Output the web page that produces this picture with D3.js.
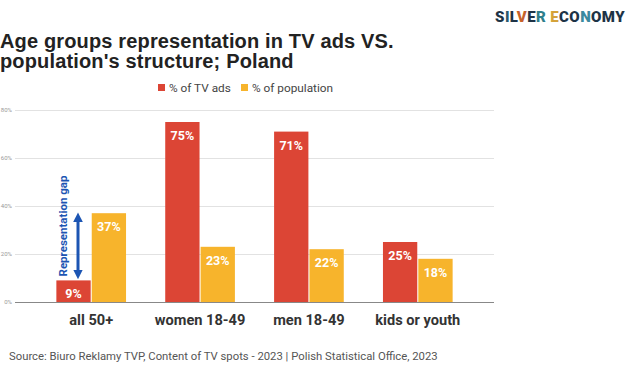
<!DOCTYPE html>
<html>
<head>
<meta charset="utf-8">
<script src="https://cdn.jsdelivr.net/npm/d3@7"></script>
<style>
  body { margin: 0; background: #fff; }
  svg { display: block; font-family: Roboto, "Liberation Sans", Arial, sans-serif; }
</style>
</head>
<body>
<div id="chart"></div>
<script>
// data
var categories = ["all 50+", "women 18-49", "men 18-49", "kids or youth"];
var tvAds = [9, 75, 71, 25];
var population = [37, 23, 22, 18];
var seriesNames = ["% of TV ads", "% of population"];
var yTicks = [0, 20, 40, 60, 80];

var colors = ["#dc4535", "#f7b42c"];

var W = 626, H = 372;
var svg = d3.select("#chart").append("svg")
  .attr("width", W)
  .attr("height", H);

// logo
var logoColors = ["#1d3346", "#2b5a6e", "#1d3346", "#c7622a", "#1d3346", "#2f7f8c", "#1d3346", "#d4a23a", "#1d3346", "#1d3346", "#3b8aa0", "#1d3346", "#1d3346", "#1d3346"];
var logo = svg.append("text")
  .attr("x", 625).attr("y", 22)
  .attr("text-anchor", "end")
  .style("font-size", "15px")
  .style("font-weight", "900")
  .style("letter-spacing", "0.4px");
"SILVER ECONOMY".split("").forEach(function(c, i) {
  logo.append("tspan").attr("fill", logoColors[i]).text(c);
});

// title
var title = svg.append("text")
  .attr("x", 0).attr("y", 48)
  .attr("fill", "#222")
  .style("font-size", "20px")
  .style("font-weight", "bold")
  .style("letter-spacing", "0.15px")
  .style("font-family", "'Liberation Sans', Arial, sans-serif");
title.append("tspan").attr("x", 0).text("Age groups representation in TV ads VS.");
title.append("tspan").attr("x", 0).attr("dy", 20).text("population's structure; Poland");

// legend
var legendX = [158, 241];
seriesNames.forEach(function(name, i) {
  var g = svg.append("g").attr("transform", "translate(" + legendX[i] + ",88)");
  g.append("rect").attr("x", 0).attr("y", -4).attr("width", 7).attr("height", 7).attr("fill", colors[i]);
  g.append("text").attr("x", 11).attr("y", 0).attr("dy", "0.35em")
    .attr("fill", "#444").style("font-size", "11.8px").text(name);
});

// scales
var x = d3.scaleBand()
  .domain(categories)
  .range([15, 494])
  .paddingInner(0.36)
  .paddingOuter(0.38);

var xSub = d3.scaleBand()
  .domain([0, 1])
  .range([0, x.bandwidth()])
  .paddingInner(0.03);

var y = d3.scaleLinear()
  .domain([0, 80])
  .range([302, 110]);

// grid
svg.append("g")
  .selectAll("line")
  .data(yTicks)
  .enter()
  .append("line")
    .attr("x1", 15).attr("x2", 494)
    .attr("y1", d => y(d) + 0.5).attr("y2", d => y(d) + 0.5)
    .attr("stroke", d => d === 0 ? "#888" : "#e2e2e2")
    .attr("stroke-width", 1);

svg.append("g")
  .selectAll("text")
  .data(yTicks)
  .enter()
  .append("text")
    .attr("x", 12).attr("y", d => y(d))
    .attr("dy", "0.35em")
    .attr("text-anchor", "end")
    .attr("fill", "#999")
    .style("font-size", "6px")
    .text(d => d + "%");

// bars
var rows = categories.map(function(c, i) { return { cat: c, vals: [tvAds[i], population[i]] }; });

var groups = svg.selectAll(".grp")
  .data(rows)
  .enter()
  .append("g")
    .attr("class", "grp")
    .attr("transform", d => "translate(" + x(d.cat) + ",0)");

groups.selectAll("rect")
  .data(d => d.vals.map((v, i) => ({ v: v, i: i })))
  .enter()
  .append("rect")
    .attr("x", d => xSub(d.i))
    .attr("y", d => y(d.v))
    .attr("width", xSub.bandwidth())
    .attr("height", d => y(0) - y(d.v))
    .attr("fill", d => colors[d.i]);

groups.selectAll(".val")
  .data(d => d.vals.map((v, i) => ({ v: v, i: i })))
  .enter()
  .append("text")
    .attr("class", "val")
    .attr("x", d => xSub(d.i) + xSub.bandwidth() / 2)
    .attr("y", d => y(d.v) + 18)
    .attr("text-anchor", "middle")
    .attr("fill", "#fff")
    .style("font-size", "12.5px")
    .style("font-weight", "bold")
    .text(d => d.v + "%");

// category labels
svg.append("g")
  .selectAll("text")
  .data(categories)
  .enter()
  .append("text")
    .attr("x", d => x(d) + x.bandwidth() / 2)
    .attr("y", 325)
    .attr("text-anchor", "middle")
    .attr("fill", "#333")
    .style("font-size", "14.6px")
    .style("font-weight", "bold")
    .text(d => d);

// representation gap arrow
var ax = 78;
var blue = "#1c55b3";
svg.append("defs").append("marker")
  .attr("id", "ah")
  .attr("viewBox", "0 0 10 10")
  .attr("refX", 5).attr("refY", 5)
  .attr("markerWidth", 3.2).attr("markerHeight", 3.2)
  .attr("orient", "auto-start-reverse")
  .append("path")
    .attr("d", "M0,0 L10,5 L0,10 z")
    .attr("fill", blue);

svg.append("line")
  .attr("x1", ax).attr("x2", ax)
  .attr("y1", y(population[0]) + 4)
  .attr("y2", y(tvAds[0]) - 6)
  .attr("stroke", blue)
  .attr("stroke-width", 3)
  .attr("marker-start", "url(#ah)")
  .attr("marker-end", "url(#ah)");

svg.append("text")
  .attr("transform", "translate(67,226) rotate(-90)")
  .attr("text-anchor", "middle")
  .attr("fill", blue)
  .style("font-size", "11.5px")
  .style("font-weight", "bold")
  .text("Representation gap");

// source
svg.append("text")
  .attr("x", 9).attr("y", 360)
  .attr("fill", "#555")
  .style("font-size", "11.3px")
  .text("Source: Biuro Reklamy TVP, Content of TV spots - 2023 | Polish Statistical Office, 2023");
</script>
</body>
</html>
